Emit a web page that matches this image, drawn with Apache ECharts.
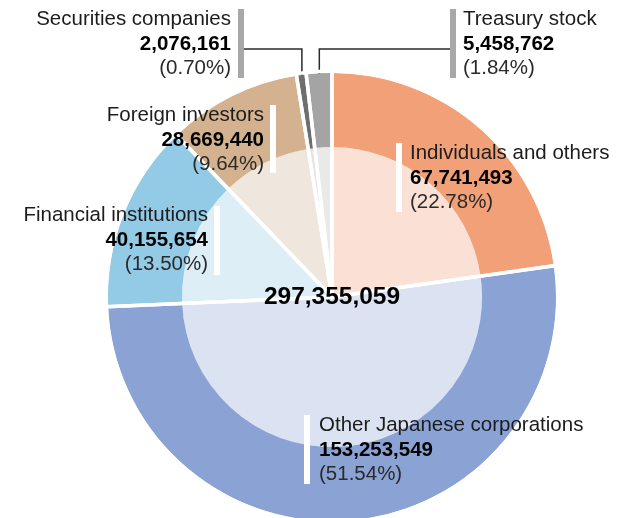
<!DOCTYPE html>
<html>
<head>
<meta charset="utf-8">
<script src="https://cdn.jsdelivr.net/npm/echarts@6/dist/echarts.min.js"></script>
<style>
  html, body { margin: 0; padding: 0; background: #fff; }
  #chart { width: 618px; height: 518px; }
</style>
</head>
<body>
<div id="chart"></div>
<script>
// Shareholder breakdown (number of shares)
const categories = [
  'Individuals and others',
  'Other Japanese corporations',
  'Financial institutions',
  'Foreign investors',
  'Securities companies',
  'Treasury stock'
];
const shares = [67741493, 153253549, 40155654, 28669440, 2076161, 5458762];

// Ring (strong) and disc (pale) colours per category
const ringColors = ['#F2A077', '#8AA3D4', '#93CAE6', '#D4B290', '#6E6E6E', '#A4A4A4'];
const discColors = ['#FBE1D5', '#DBE2F1', '#DDEEF7', '#EFE6DD', '#E4E4E4', '#E9E9E9'];

const total = shares.reduce((a, b) => a + b, 0);
const fmt = v => v.toLocaleString('en-US');
const pct = v => (v / total * 100).toFixed(2) + '%';

// Geometry of the donut
const CX = 332, CY = 297, R = 224, R0 = 150;

// Label anchor, alignment and accent bar for each category
const labelPlace = [
  { x: 410, y: 178, align: 'left' },
  { x: 319, y: 450, align: 'left' },
  { x: 208, y: 240, align: 'right' },
  { x: 264, y: 140, align: 'right' },
  { x: 231, y: 44,  align: 'right' },
  { x: 463, y: 44,  align: 'left' }
];
const accentBars = [
  { x: 396, y: 143, h: 69, c: '#fff' },
  { x: 304, y: 415, h: 69, c: '#fff' },
  { x: 214, y: 206, h: 69, c: '#fff' },
  { x: 270, y: 105, h: 68, c: '#fff' },
  { x: 238, y: 9,   h: 69, c: '#A8A8A8' },
  { x: 450, y: 9,   h: 69, c: '#A8A8A8' }
];
const leaderItems = [4, 5];
const leaderY = 49;

// Mid angle of a slice, clockwise from 12 o'clock (radians)
function midAngle(i) {
  let cum = 0;
  for (let k = 0; k < i; k++) cum += shares[k];
  return (cum + shares[i] / 2) / total * Math.PI * 2;
}

const chart = echarts.init(document.getElementById('chart'), null, { renderer: 'canvas' });

const baseFont = '"Liberation Sans", Arial, Helvetica, sans-serif';
const rich = {
  n: { fontSize: 20.5, lineHeight: 24.5, color: '#1c1c1c', fontFamily: baseFont },
  v: { fontSize: 20.5, lineHeight: 24.5, color: '#000', fontWeight: 'bold', fontFamily: baseFont },
  p: { fontSize: 20.5, lineHeight: 24.5, color: '#2a2a2a', fontFamily: baseFont }
};

const option = {
  animation: false,
  backgroundColor: '#fff',
  series: [
    {
      // pale inner disc
      type: 'pie',
      center: [CX, CY],
      radius: [0, R0],
      startAngle: 90,
      silent: true,
      label: { show: false },
      labelLine: { show: false },
      data: categories.map((c, i) => ({ name: c, value: shares[i], itemStyle: { color: discColors[i] } }))
    },
    {
      // strong outer ring
      type: 'pie',
      center: [CX, CY],
      radius: [R0, R],
      startAngle: 90,
      silent: true,
      label: { show: false },
      labelLine: { show: false },
      data: categories.map((c, i) => ({ name: c, value: shares[i], itemStyle: { color: ringColors[i] } }))
    },
    {
      // white separators between slices, plus the labels
      type: 'pie',
      center: [CX, CY],
      radius: [0, R + 2],
      startAngle: 90,
      silent: true,
      avoidLabelOverlap: false,
      itemStyle: { color: 'rgba(0,0,0,0)', borderColor: '#fff', borderWidth: 3.5 },
      label: {
        show: true,
        position: 'outside',
        formatter: p => '{n|' + p.name + '}\n{v|' + fmt(p.value) + '}\n{p|(' + pct(p.value) + ')}',
        rich: rich
      },
      labelLine: { show: false, lineStyle: { color: '#2b2b2b', width: 1.5 } },
      labelLayout: function (params) {
        const i = params.dataIndex;
        const pl = labelPlace[i];
        const out = { x: pl.x, y: pl.y, align: pl.align, verticalAlign: 'middle' };
        if (leaderItems.indexOf(i) >= 0) {
          const a = midAngle(i);
          const lx = CX + (R - 4) * Math.sin(a);
          const ly = CY - (R - 4) * Math.cos(a);
          const bar = accentBars[i];
          const endX = pl.align === 'right' ? bar.x + 6 : bar.x;
          out.labelLinePoints = [[lx, ly], [lx, leaderY], [endX, leaderY]];
        }
        return out;
      },
      data: categories.map((c, i) => ({
        name: c,
        value: shares[i],
        labelLine: { show: leaderItems.indexOf(i) >= 0 }
      }))
    }
  ],
  graphic: {
    elements: accentBars.map(b => ({
      type: 'rect',
      silent: true,
      z: 50,
      shape: { x: b.x, y: b.y, width: 6, height: b.h },
      style: { fill: b.c }
    })).concat([{
      type: 'text',
      silent: true,
      z: 50,
      x: CX,
      y: CY,
      style: {
        text: fmt(total),
        textAlign: 'center',
        textVerticalAlign: 'middle',
        font: 'bold 24.5px ' + baseFont,
        fill: '#000'
      }
    }])
  }
};

chart.setOption(option);
</script>
</body>
</html>
